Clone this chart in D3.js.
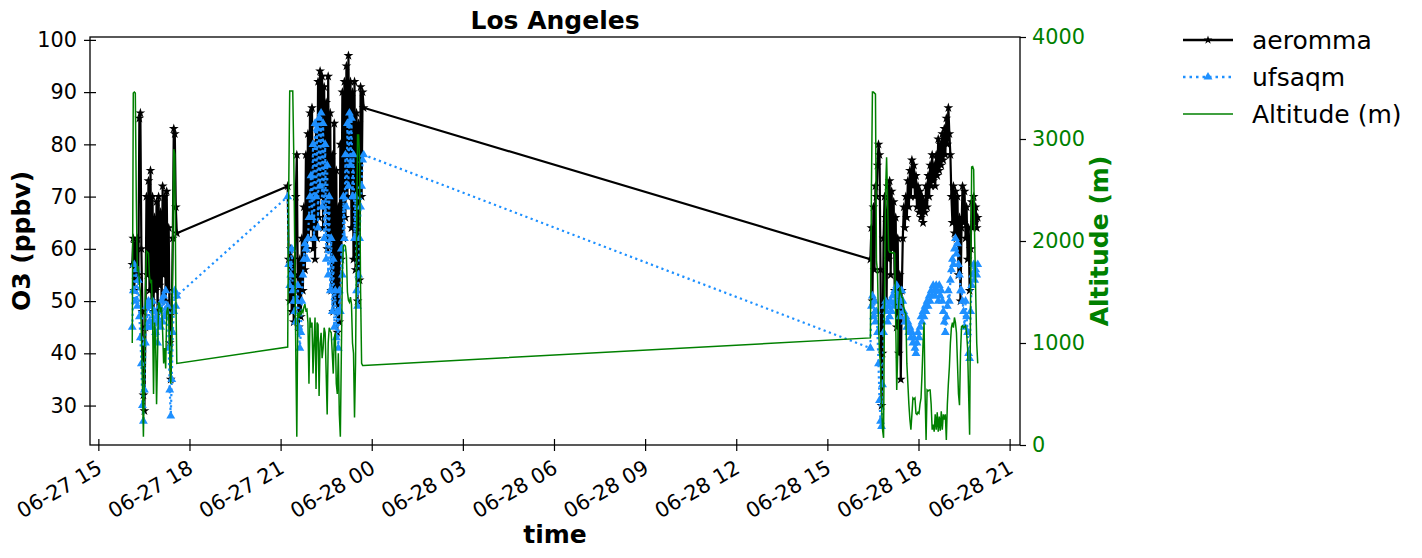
<!DOCTYPE html>
<html><head><meta charset="utf-8">
<script src="https://cdn.jsdelivr.net/npm/d3@7"></script>
<style>body{margin:0;background:#fff} text{font-family:"DejaVu Sans",sans-serif}</style>
</head><body><svg id="c" width="1422" height="558"></svg>
<script>
// ---- data ----
// Flight samples, 2-minute averages; start time of each flight leg in minutes after 2023-06-27 00:00
const baseDate = new Date(2023, 5, 27, 0, 0);
const sampleMinutes = 2;
const legStarts = [967, 1274, 2425];

const aeromma1 = [57,62,52,61,54,62,55,85,86,60,48,32,29,45,70,55,73,52,75,50,70,48,66,52,69,48,70,53,67,50,72,55,70,50,71,52,64,42,35,48,62,83,82,68,63];
const ufsaqm1  = [45,52,57,50,56,49,54,47,43,38,30,27,33,42,49,45,50,46,49,45,50,46,48,44,47,42,46,49,45,50,46,51,47,52,48,49,41,33,28,35,44,48,52,49,51];
const altitude1 = [1000,3450,3460,3450,2400,1700,1750,1600,1500,1100,600,80,700,1500,1900,1890,1880,1650,1600,1620,1300,500,1200,1050,400,900,1400,1380,1300,1350,1100,800,950,750,1300,1350,1250,900,600,1000,2000,2900,2850,1500,800];

const aeromma2 = [72,58,50,60,48,58,46,55,70,78,52,45,58,47,62,52,68,56,78,60,82,62,86,64,87,60,80,58,84,62,92,66,94,70,93,64,91,68,88,60,93,62,86,52,78,48,84,50,75,44,68,46,80,58,90,62,92,66,95,70,97,72,92,64,90,58,92,56,86,50,84,54,91,70,90,87];
const ufsaqm2  = [70,57,53,55,60,52,50,48,46,50,53,45,41,44,50,55,58,61,60,58,62,66,70, 74,66,80,62,84,70,83,64,85,72,86,68,84,62,80,58,76,55,70,52, 62,48,58,45,52,43,48,41,52,48, 60,55,70,62,78,68,84,72,86,76,85,70,78,62,70,52,49,55,62,68,72,77,78];
const altitude2 = [960,2500,3470,3470,3470,3470,2850,1900,900,80,1300,1250,1300,1280,1320,1300,1350,1380,1320,1330,1200,600,1250,1150,1200,700,1000,1250,550,1200,1180,480,1000,1100,850,950,1150,1100,700,300,1000,1150,1120,1100,900,700,1050,1100,600,500,900,300,80,900,1700,1950,1960,1950,1850,1500,1420,1400,1450,1380,1000,900,270,800,2000,3040,3040,2800,1500,800,780,780];

const aeromma3 = [58, 64,50,68,56,72, 70,76,80,78,56, 30,40,62,70, 66,50,72,58,73,55,71,60,69, 52,66,45,62,40,55,35,52, 62,68,64,70,66,73,68,75,70,77,72, 76,70,74,68,72,67,71,66,70,65,69,67, 72,68,74,70,76,72,78,73, 76,72,78,74,81,75, 80,76,82,77,83,78,85,80,87,82, 78,70,65,72,63, 71,62,70,55,66,50,64, 72,65,71,62,68,58,64, 52,60,69,64,70,65,68,64,66];
const ufsaqm3  = [41,49,51,47,50, 46,48,44,38,31, 27,26,34,44,49, 50,48,46,49,47, 50,48,51,49,52, 50,53,51,49,47, 50,52,50,48,46, 47,45,46,44,45, 43,44,42,43,41, 40,42,44,43,45, 47,46,48,47,49, 48,50,49,51,50, 52,51,53,52,51, 53,52,50,53,51, 52,50,48,46,44, 47,49,52,50,54, 56,58,57,60,62, 59,61,57,55,52, 52,50,48,45,50, 47,44,40,39,48, 53,55,57,54,56, 55,57];
const altitude3 = [1050,2500,3460,3460,3450, 3440,1800,1700,1200,900, 800,400,150,70,1500, 2500,2820,2400,1910,1890, 1890,1890,1880,1890,1880, 1200,540,900,1400,1550, 1500,1450,1440,1350,1300, 1290,800,600,400,250, 150,300,460,450,460, 310,300,320,310,400, 460,700,1000,1200,500, 50,540,530,540,540, 400,150,200,130,300, 150,320,130,280,140, 330,150,300,250,300, 50,400,600,765,1000, 1150,1200,1150,1250,1200, 1100,800,500,390,900, 1160,1170,1150,1160,1170, 1100,950,500,100,1500, 2725,2730,2700,2000,1500, 1000,800];

const o3Ticks = [30,40,50,60,70,80,90,100];
const altTicks = [0,1000,2000,3000,4000];
const altDomain = [0, 4000];
const titleText = "Los Angeles";
const seriesNames = ["aeromma", "ufsaqm", "Altitude (m)"];

// ---- build records ----
const legs = [[aeromma1, ufsaqm1, altitude1], [aeromma2, ufsaqm2, altitude2], [aeromma3, ufsaqm3, altitude3]];
const rows = [];
legs.forEach((leg, k) => {
  leg[0].forEach((v, i) => {
    rows.push({t: new Date(baseDate.getTime() + (legStarts[k] + i * sampleMinutes) * 60000),
               a: v, u: leg[1][i], alt: leg[2][i]});
  });
});

// ---- layout ----
const L = 90, R = 1020, T = 37, B = 445;
const svg = d3.select("#c");
const ext = d3.extent(rows, d => d.t);
const span = ext[1] - ext[0];
const x = d3.scaleTime().domain([new Date(+ext[0] - span * 0.05), new Date(+ext[1] + span * 0.05)]).range([L, R]);
const o3min = d3.min(rows, d => Math.min(d.a, d.u)), o3max = d3.max(rows, d => Math.max(d.a, d.u));
const pad = (o3max - o3min) * 0.05;
const y = d3.scaleLinear().domain([o3min - pad, o3max + pad]).range([B, T]);
const y2 = d3.scaleLinear().domain(altDomain).range([B, T]);

const plot = svg.append("g");
// aeromma
plot.append("path").datum(rows).attr("fill", "none").attr("stroke", "#000").attr("stroke-width", 2.2)
  .attr("stroke-linejoin", "round")
  .attr("d", d3.line().x(d => x(d.t)).y(d => y(d.a)));
const star = d3.symbol().type(d3.symbolStar).size(30)();
plot.append("g").selectAll("path").data(rows).join("path").attr("d", star)
  .attr("transform", d => `translate(${x(d.t)},${y(d.a)})`).attr("fill", "#000");
// ufsaqm
plot.append("path").datum(rows).attr("fill", "none").attr("stroke", "#1e90ff").attr("stroke-width", 2.2)
  .attr("stroke-dasharray", "2.2,3.4")
  .attr("d", d3.line().x(d => x(d.t)).y(d => y(d.u)));
const tri = d3.symbol().type(d3.symbolTriangle).size(34)();
plot.append("g").selectAll("path").data(rows).join("path").attr("d", tri)
  .attr("transform", d => `translate(${x(d.t)},${y(d.u)})`).attr("fill", "#1e90ff");
// altitude
plot.append("path").datum(rows).attr("fill", "none").attr("stroke", "#008000").attr("stroke-width", 1.5)
  .attr("d", d3.line().x(d => x(d.t)).y(d => y2(d.alt)));

// ---- axes ----
const fmt = d3.timeFormat("%m-%d %H");
const xAxis = svg.append("g").attr("transform", `translate(0,${B})`)
  .call(d3.axisBottom(x).ticks(d3.timeHour.every(3)).tickFormat(fmt).tickSizeInner(6).tickSizeOuter(0));
xAxis.select(".domain").remove();
xAxis.selectAll(".tick line").attr("y1", -6).attr("y2", 6).attr("stroke", "#000").attr("stroke-width", 1.2);
xAxis.selectAll(".tick text").attr("font-size", 20.8).attr("fill", "#000")
  .attr("text-anchor", "end").attr("y", 0).attr("dy", "0.72em")
  .attr("transform", "translate(-3,14) rotate(-30)");

const yAxis = svg.append("g").attr("transform", `translate(${L},0)`)
  .call(d3.axisLeft(y).tickValues(o3Ticks).tickSizeInner(6).tickSizeOuter(0).tickPadding(7));
yAxis.select(".domain").remove();
yAxis.selectAll(".tick line").attr("x1", -6).attr("x2", 6).attr("stroke", "#000").attr("stroke-width", 1.2);
yAxis.selectAll(".tick text").attr("font-size", 20.8).attr("fill", "#000");

const y2Axis = svg.append("g").attr("transform", `translate(${R},0)`)
  .call(d3.axisRight(y2).tickValues(altTicks).tickFormat(d3.format("d")).tickSizeInner(6).tickSizeOuter(0).tickPadding(6));
y2Axis.select(".domain").remove();
y2Axis.selectAll(".tick line").attr("stroke", "#000").attr("stroke-width", 1.2);
y2Axis.selectAll(".tick text").attr("font-size", 20.8).attr("fill", "#008000");

svg.append("rect").attr("x", L).attr("y", T).attr("width", R - L).attr("height", B - T)
  .attr("fill", "none").attr("stroke", "#000").attr("stroke-width", 1.3);

// ---- labels ----
svg.append("text").attr("x", (L + R) / 2).attr("y", 29).attr("text-anchor", "middle")
  .attr("font-size", 25).attr("font-weight", "bold").text(titleText);
svg.append("text").attr("x", (L + R) / 2).attr("y", 543).attr("text-anchor", "middle")
  .attr("font-size", 25).attr("font-weight", "bold").text("time");
svg.append("text").attr("transform", `translate(30,${(T + B) / 2}) rotate(-90)`).attr("text-anchor", "middle")
  .attr("font-size", 25).attr("font-weight", "bold").text("O3 (ppbv)");
svg.append("text").attr("transform", `translate(1108,${(T + B) / 2}) rotate(-90)`).attr("text-anchor", "middle")
  .attr("font-size", 25).attr("font-weight", "bold").attr("fill", "#008000").text("Altitude (m)");

// ---- legend ----
const lg = svg.append("g");
const ly = [40, 77, 114];
lg.append("line").attr("x1", 1183).attr("x2", 1233).attr("y1", ly[0]).attr("y2", ly[0]).attr("stroke", "#000").attr("stroke-width", 2.5);
lg.append("path").attr("d", d3.symbol().type(d3.symbolStar).size(24)()).attr("transform", `translate(1208,${ly[0]})`);
lg.append("line").attr("x1", 1183).attr("x2", 1233).attr("y1", ly[1]).attr("y2", ly[1]).attr("stroke", "#1e90ff").attr("stroke-width", 2.5).attr("stroke-dasharray", "2.5,4");
lg.append("path").attr("d", d3.symbol().type(d3.symbolTriangle).size(34)()).attr("fill", "#1e90ff").attr("transform", `translate(1208,${ly[1]})`);
lg.append("line").attr("x1", 1183).attr("x2", 1233).attr("y1", ly[2]).attr("y2", ly[2]).attr("stroke", "#008000").attr("stroke-width", 1.5);
seriesNames.forEach((n, i) => lg.append("text").attr("x", 1252).attr("y", ly[i]).attr("dy", "0.35em")
  .attr("font-size", 25).text(n));
</script></body></html>
